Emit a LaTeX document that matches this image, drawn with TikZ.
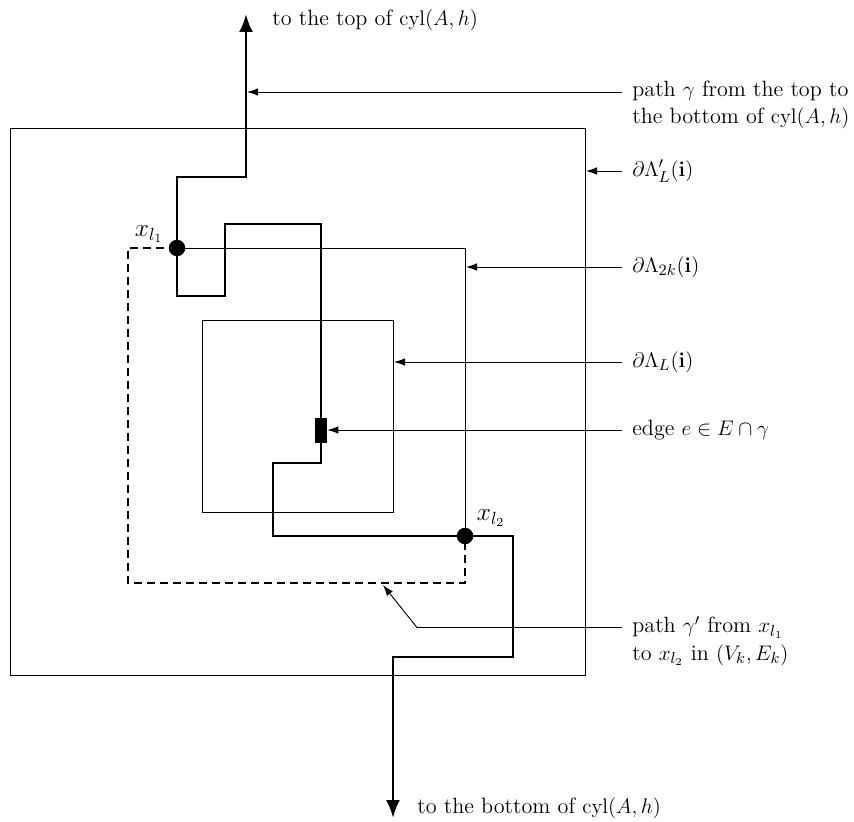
\documentclass[tikz,border=0pt]{standalone}
\usetikzlibrary{arrows.meta,calc}
\tikzset{
  gamma/.style={line width=1.6pt},
  gdash/.style={line width=1.3pt,dash pattern=on 0.17cm off 0.09cm},
  frame/.style={line width=0.45pt},
  leader/.style={line width=0.5pt,-{Latex[length=2.2mm,width=1.5mm]}},
  lbl/.style={anchor=west,inner xsep=2mm,inner ysep=0pt,font=\fontsize{12.6}{15.4}\selectfont},
  site/.style={circle,fill,inner sep=0pt,minimum size=3.3mm},
  edgebox/.style={rectangle,fill,inner sep=0pt,minimum width=2.4mm,minimum height=5mm},
}
\begin{document}
\begin{tikzpicture}[x=0.02cm,y=-0.02cm]
  \useasboundingbox (0,0) rectangle (854,821);
  % boxes
  \draw[frame] (10,128) rectangle (585,675);
  \draw[frame] (202,320) rectangle (393,512);
  \draw[frame] (177,248) -- (465,248) -- (465,536);
  \draw[gdash] (177,248) -- (128,248) -- (128,583) -- (465,583) -- (465,536);
  % path gamma
  \coordinate (top) at (246,14);
  \coordinate (p1) at (177,248);
  \coordinate (pe) at (321,430);
  \coordinate (p2) at (465,536);
  \coordinate (bot) at (393,818);
  \draw[gamma,{Latex[length=3.6mm,width=2.8mm]}-{Latex[length=3.6mm,width=2.8mm]}]
    (top) |- (177,177) |- (225,296) |- (321,224) -- (321,463)
    -| (273,536) -| (513,657) -| (bot);
  \node[site] (x1) at (p1) {};
  \node[site] (x2) at (p2) {};
  \node[edgebox] (e) at (pe) {};
  \node[font=\fontsize{14}{16}\selectfont] at (149,234) {$x_{l_1}$};
  \node[font=\fontsize{14}{16}\selectfont] at (491,518) {$x_{l_2}$};
  % labels
  \node[lbl,inner xsep=0pt] (ltop) at (272,20) {to the top of $\mathrm{cyl}(A,h)$};
  \node[lbl,inner xsep=0pt] (lbot) at (417,808) {to the bottom of $\mathrm{cyl}(A,h)$};
  \node[lbl,align=left] (lgam) at (622,105) {path $\gamma$ from the top to\\the bottom of $\mathrm{cyl}(A,h)$};
  \node[lbl] (lout) at (622,171) {$\partial\Lambda'_L(\mathbf{i})$};
  \node[lbl] (lmid) at (622,267) {$\partial\Lambda_{2k}(\mathbf{i})$};
  \node[lbl] (lin) at (622,362) {$\partial\Lambda_L(\mathbf{i})$};
  \node[lbl] (ledge) at (622,430) {edge $e\in E\cap\gamma$};
  \node[lbl,align=left] (lgp) at (622,641) {path $\gamma'$ from $x_{l_1}$\\to $x_{l_2}$ in $(V_k,E_k)$};
  \coordinate (bend) at (417,627.5);
  % leaders
  \draw[leader] ($(lgam.west)+(0,-13)$) -- (247,92);
  \draw[leader] (lout.west) -- (586,171);
  \draw[leader] (lmid.west) -- (466,267);
  \draw[leader] (lin.west) -- (394,362);
  \draw[leader] (ledge.west) -- (e.east);
  \draw[leader] (lgp.west |- bend) -- (bend) -- (383,585);
\end{tikzpicture}
\end{document}
